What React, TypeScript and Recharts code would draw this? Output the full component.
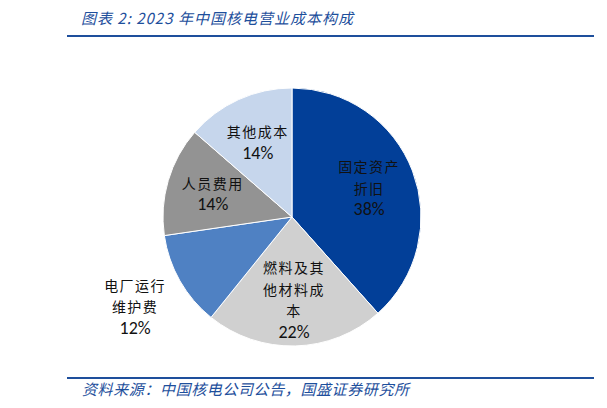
import { PieChart, Pie, Cell } from 'recharts';

// 2023 cost structure (share of operating cost, %)
const categories = ['固定资产折旧', '燃料及其他材料成本', '电厂运行维护费', '人员费用', '其他成本'];
const shares = [38.4, 22.4, 11.9, 13.7, 13.6];
// how each name breaks over lines in the slice label
const labelLines = [
  ['固定资产', '折旧'],
  ['燃料及其', '他材料成', '本'],
  ['电厂运行', '维护费'],
  ['人员费用'],
  ['其他成本'],
];

const COLORS = ['#023F98', '#D0D0D0', '#4F81C3', '#939393', '#C6D6EC'];
const BLUE = '#1E4F9C';
const CJK = '"Noto Sans CJK SC", sans-serif';
const LATIN = 'Calibri, "Liberation Sans", "Noto Sans CJK SC", sans-serif';

const data = categories.map((name, i) => ({ name, value: shares[i], lines: labelLines[i] }));

const RADIAN = Math.PI / 180;

const SliceLabel = (props: any) => {
  const { cx, cy, midAngle, outerRadius, index, percent } = props;
  const outside = index === 2;
  const r = outside ? outerRadius * 1.4 : outerRadius * 0.64;
  const x = cx + r * Math.cos(-midAngle * RADIAN);
  const y = cy + r * Math.sin(-midAngle * RADIAN);
  const lines: string[] = data[index].lines;
  const lh = 21.5;
  const total = lines.length + 1;
  const top = y - ((total - 1) * lh) / 2;
  return (
    <text x={x} y={top} textAnchor="middle" dominantBaseline="central" fill="#111">
      {lines.map((l, i) => (
        <tspan key={i} x={x} y={top + i * lh} fontFamily={CJK} fontSize={14} letterSpacing={1.5}>{l}</tspan>
      ))}
      <tspan x={x} y={top + lines.length * lh} fontFamily={LATIN} fontSize={18}>
        {`${Math.round(percent * 100)}%`}
      </tspan>
    </text>
  );
};

export default function App() {
  return (
    <div style={{ position: 'absolute', left: 0, top: 0, width: 607, height: 408, background: '#fff' }}>
      <div style={{
        position: 'absolute', left: 81, top: 7, fontFamily: CJK, fontStyle: 'italic',
        fontSize: 15, letterSpacing: 1, color: BLUE, whiteSpace: 'nowrap', lineHeight: '22px',
      }}>
        图表 2:  2023 年中国核电营业成本构成
      </div>
      <div style={{ position: 'absolute', left: 67, top: 35, width: 527, height: 2, background: BLUE }} />

      <div style={{ position: 'absolute', left: 0, top: 0 }}>
        <PieChart width={607} height={408} margin={{ top: 0, right: 0, bottom: 0, left: 0 }}>
          <Pie
            data={data}
            dataKey="value"
            nameKey="name"
            cx={292}
            cy={217}
            outerRadius={129}
            startAngle={90}
            endAngle={-270}
            stroke="#fff"
            strokeWidth={1}
            label={SliceLabel}
            labelLine={false}
            isAnimationActive={false}
          >
            {data.map((d, i) => (
              <Cell key={d.name} fill={COLORS[i]} />
            ))}
          </Pie>
        </PieChart>
      </div>

      <div style={{ position: 'absolute', left: 67, top: 377, width: 527, height: 2, background: BLUE }} />
      <div style={{
        position: 'absolute', left: 82, top: 378, fontFamily: CJK, fontStyle: 'italic',
        fontSize: 15, letterSpacing: 0.6, color: BLUE, whiteSpace: 'nowrap', lineHeight: '22px',
      }}>
        资料来源：中国核电公司公告，国盛证券研究所
      </div>
    </div>
  );
}
